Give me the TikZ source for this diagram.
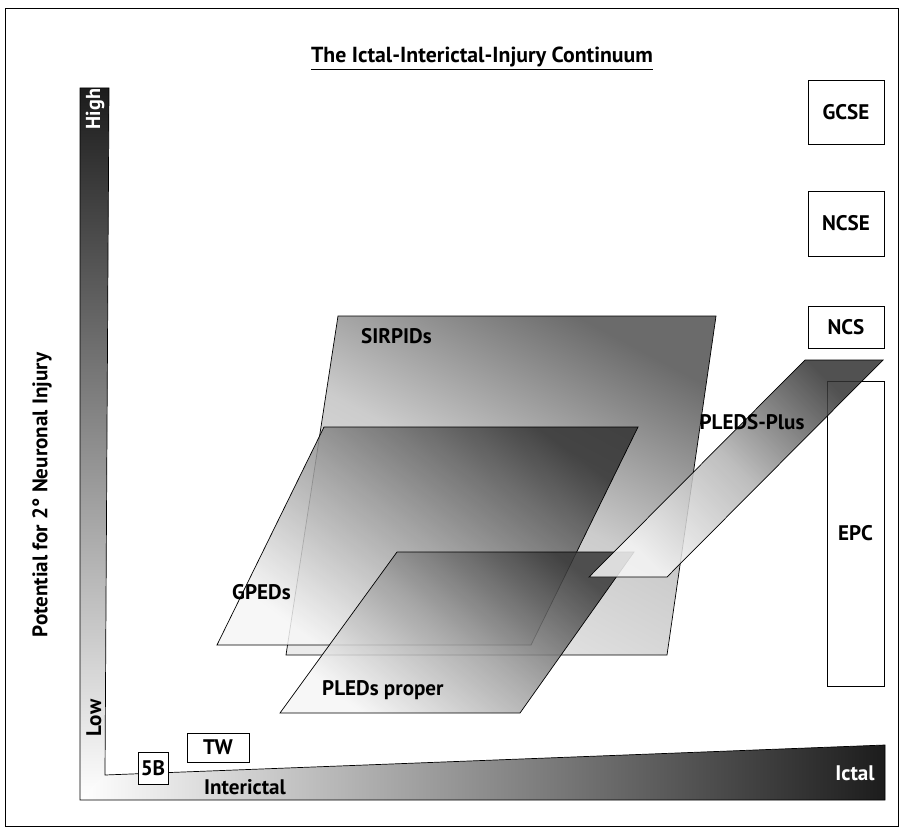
\documentclass[tikz,border=0pt]{standalone}
\usepackage{fontspec}
\setmainfont{PT Sans}
\usetikzlibrary{positioning}
\definecolor{Ink}{HTML}{1C1C1C}
\definecolor{Mist}{HTML}{F6F6F6}

\begin{document}
\begin{tikzpicture}[x=.02cm,y=-.02cm,
    lbl/.style={font=\bfseries\fontsize{12}{14}\selectfont},
    tag/.style={draw,fill=white,lbl,inner sep=0pt},
    plane/.style n args={4}{draw,bottom color=#1,top color=#3,middle color=#2,shading angle=#4,fill opacity=.85}]
  \useasboundingbox (0,0) rectangle (901,834);
  \draw (5,8) rectangle (898,826);
  \node[lbl,font=\bfseries\fontsize{12.4}{15}\selectfont] (title) at (482,59) {\underline{The Ictal-Interictal-Injury Continuum}};

  % axes
  \shade[top color=Ink,bottom color=white] (80,88) -- (109,88) -- (105,775) -- (80,800) -- cycle;
  \shade[left color=white,right color=Ink] (80,800) -- (105,775) -- (885,745) -- (885,800) -- cycle;
  \draw (80,88) -- (109,88) -- (105,775) -- (885,745) -- (885,800) -- (80,800) -- cycle;
  \node[lbl,rotate=90,text=white,font=\bfseries\fontsize{11.5}{14}\selectfont] (high) at (95,109) {High};
  \node[lbl,rotate=90] (low) at (94,718) {Low};
  \node[lbl] (inter) at (245,787) {Interictal};
  \node[lbl,text=white] (ictal) at (855,773) {Ictal};
  \node[lbl,rotate=90] (injury) at (42,495) {Potential for 2° Neuronal Injury};

  % boxes
  \node[tag,minimum width=1.52cm,minimum height=1.28cm] (gcse) at (846,112) {GCSE};
  \node[tag,minimum width=1.52cm,minimum height=1.3cm] (ncse) at (846,223.5) {NCSE};
  \node[tag,minimum width=1.52cm,minimum height=.84cm] (ncs) at (846,327) {NCS};
  \node[tag,minimum width=1.14cm,minimum height=6.1cm] (epc) at (855.5,533.5) {EPC};
  \node[tag,minimum width=1.24cm,minimum height=.58cm] (tw) at (218,747.5) {TW};
  \node[tag,minimum width=.6cm,minimum height=.64cm] (fiveb) at (153,768) {5B};

  % planes
  \path[plane={black!8}{black!20}{black!58}{-28},fill opacity=1] (338,316) -- (716,316) -- (667,655) -- (286,655) -- cycle;
  \path[plane={Mist}{black!40}{black!80}{-36}] (324,427) -- (638,427) -- (531,645) -- (217,645) -- cycle;
  \path[plane={Mist}{black!38}{black!78}{-38}] (397,552) -- (634,552) -- (520,713) -- (280,713) -- cycle;
  \path[plane={Mist}{black!30}{black!80}{-45}] (805,360) -- (883,360) -- (667,577) -- (589,577) -- cycle;

  \node[lbl,anchor=west] (sirpids) at (355,336) {SIRPIDs};
  \node[lbl,anchor=west] (gpeds) at (226,592) {GPEDs};
  \node[lbl,anchor=west] (pledsp) at (316,690) {PLEDs proper};
  \node[lbl] (pledsplus) at (752,422) {PLEDS-Plus};
\end{tikzpicture}
\end{document}
